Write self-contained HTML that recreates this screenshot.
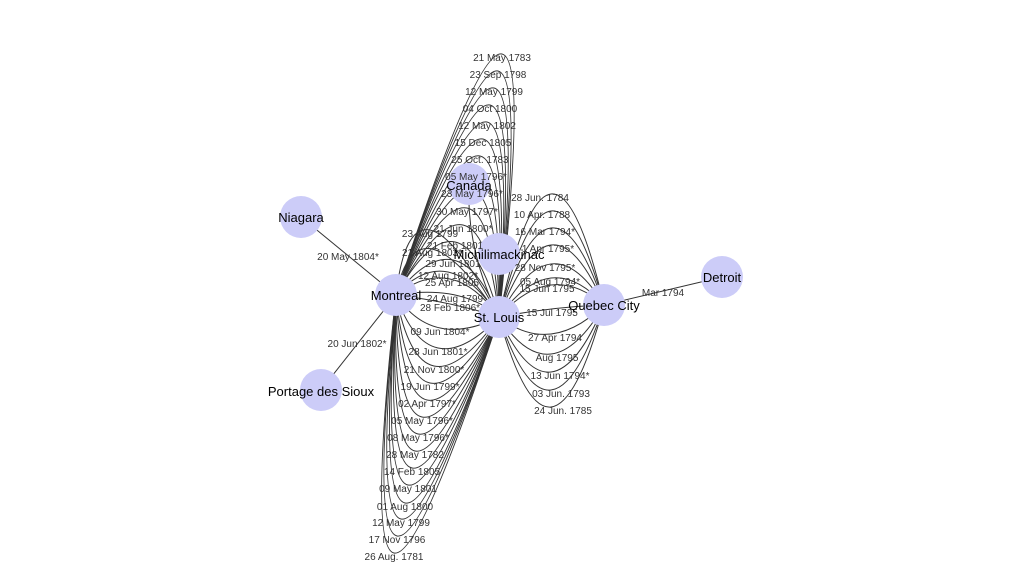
<!DOCTYPE html>
<html><head><meta charset="utf-8"><style>
html,body{margin:0;padding:0;background:#fff;}
svg{display:block;font-family:"Liberation Sans","DejaVu Sans",sans-serif;}
.l{font-size:10px;fill:#333;text-anchor:middle;}
.n{font-size:13px;fill:#000;text-anchor:middle;}
</style></head><body>
<svg id="s" width="1024" height="576" viewBox="0 0 1024 576">
<g id="e" stroke="#333" stroke-width="1" fill="none">
<line x1="301" y1="217" x2="396" y2="295"/>
<line x1="321" y1="390" x2="396" y2="295"/>
<line x1="604" y1="305" x2="722" y2="277"/>
</g>
<g fill="#ccccf8">
<circle cx="301" cy="217" r="21"/>
<circle cx="396" cy="295" r="21"/>
<circle cx="321" cy="390" r="21"/>
<circle cx="469" cy="184" r="21"/>
<circle cx="499" cy="254" r="21"/>
<circle cx="499" cy="317" r="21"/>
<circle cx="604" cy="305" r="21"/>
<circle cx="722" cy="277" r="21"/>
</g>
<g class="l">
<text x="348" y="260">20 May 1804*</text>
<text x="357" y="347">20 Jun 1802*</text>
<text x="663" y="296">Mar 1794</text>
<text x="502" y="61">21 May 1783</text>
<text x="498" y="78">23 Sep 1798</text>
<text x="494" y="95">12 May 1799</text>
<text x="490" y="112">04 Oct 1800</text>
<text x="487" y="129">12 May 1802</text>
<text x="483" y="146">15 Dec 1805</text>
<text x="480" y="163">25 Oct. 1783</text>
<text x="476" y="180">05 May 1796*</text>
<text x="472" y="197">23 May 1796*</text>
<text x="467" y="215">30 May 1797*</text>
<text x="463" y="232">21 Jun 1800*</text>
<text x="430" y="237">23 Aug 1799</text>
<text x="455" y="249">21 Feb 1801</text>
<text x="432" y="256">21 Aug 1803*</text>
<text x="453" y="267">29 Jun 1801</text>
<text x="448" y="279">12 Aug 1802*</text>
<text x="452" y="286">25 Apr 1805</text>
<text x="455" y="302">24 Aug 1799</text>
<text x="450" y="311">28 Feb 1806*</text>
<text x="440" y="335">09 Jun 1804*</text>
<text x="438" y="355">28 Jun 1801*</text>
<text x="434" y="373">21 Nov 1800*</text>
<text x="430" y="390">19 Jun 1799*</text>
<text x="427" y="407">02 Apr 1797*</text>
<text x="422" y="424">05 May 1796*</text>
<text x="418" y="441">08 May 1796*</text>
<text x="415" y="458">28 May 1782</text>
<text x="412" y="475">14 Feb 1805</text>
<text x="408" y="492">09 May 1801</text>
<text x="405" y="510">01 Aug 1800</text>
<text x="401" y="526">12 May 1799</text>
<text x="397" y="543">17 Nov 1796</text>
<text x="394" y="560">26 Aug. 1781</text>
<text x="540" y="201">28 Jun. 1784</text>
<text x="542" y="218">10 Apr. 1788</text>
<text x="545" y="235">16 Mar 1794*</text>
<text x="548" y="252">1 Apr 1795*</text>
<text x="545" y="271">28 Nov 1795*</text>
<text x="550" y="285">05 Aug 1794*</text>
<text x="547" y="292">15 Jun 1795</text>
<text x="552" y="316">15 Jul 1795</text>
<text x="555" y="341">27 Apr 1794</text>
<text x="557" y="361">Aug 1795</text>
<text x="560" y="379">13 Jun 1794*</text>
<text x="561" y="397">03 Jun. 1793</text>
<text x="563" y="414">24 Jun. 1785</text>
</g>
<g class="n">
<text x="301" y="222">Niagara</text>
<text x="396" y="300">Montreal</text>
<text x="321" y="396">Portage des Sioux</text>
<text x="469" y="190">Canada</text>
<text x="499" y="259">Michilimackinac</text>
<text x="499" y="322">St. Louis</text>
<text x="604" y="310">Quebec City</text>
<text x="722" y="282">Detroit</text>
</g>
</svg>
<script>
(function(){
var g=document.getElementById('e');
function q(p0,p2,ax,ay){
 var mx=(p0[0]+p2[0])/2,my=(p0[1]+p2[1])/2;
 var cx=2*ax-mx,cy=2*ay-my;
 var p=document.createElementNS('http://www.w3.org/2000/svg','path');
 p.setAttribute('d','M'+p0[0]+','+p0[1]+' Q'+cx+','+cy+' '+p2[0]+','+p2[1]);
 g.appendChild(p);
}
var M=[396,295],S=[499,317],Q=[604,305];
var top=[[502,54],[498,71],[494,88],[490,105],[487,122],[483,139],[480,156],[476,173],[472,190],[467,208],[463,225],[455,242],[453,260],[448,272],[450,279]];
top.forEach(function(a){q(M,S,a[0],a[1]);});
var bot=[[440,328],[438,348],[434,366],[430,383],[427,400],[422,417],[418,434],[415,451],[412,468],[408,485],[405,503],[401,519],[397,536],[394,553]];
bot.forEach(function(a){q(M,S,a[0],a[1]);});
q(M,S,455,295);q(M,S,450,304);q(M,S,430,230);q(M,S,432,249);
var r=[[551,194],[551,211],[551,228],[551,245],[551,264],[551,278],[551,285],[551,309],[551,334],[551,354],[551,372],[551,390],[551,407]];
r.forEach(function(a){q(S,Q,a[0],a[1]);});
q([469,184],S,475,250);
})();
</script>
</body></html>
